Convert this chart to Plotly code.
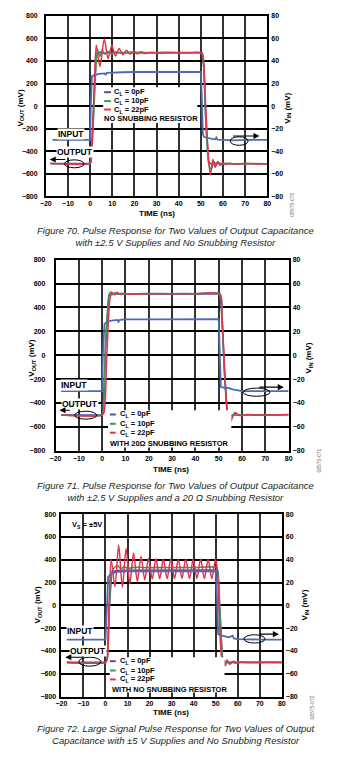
import plotly.graph_objects as go

# ---------------- data (time in ns, output in mV, input in mV) ----------------
# Figure 70
f70_in_t = [-17, 0, 0.3, 0.8, 2, 4, 6.5, 7, 7.5, 10, 15, 20, 30, 40, 50, 50.4, 50.9, 51.5, 53, 55, 56.5, 57, 57.5, 59, 62, 65, 70, 80]
f70_in_mv = [-30, -30, 0, 26.5, 27.5, 28.5, 29, 27.5, 29.5, 29.8, 30, 30.2, 30, 30.2, 30.2, 10, -25, -27.5, -28.5, -29.2, -29.5, -28, -29.8, -30, -30, -30.5, -30, -30]
f70_0pf_t = [-18, 0, 0.4, 1.5, 2.7, 4, 6, 10, 20, 50.5, 51.3, 52.3, 53.5, 55, 57, 60, 80]
f70_0pf_mv = [-510, -510, -485, 0, 460, 478, 470, 475, 473, 473, 350, -150, -500, -515, -505, -512, -512]
f70_10pf_t = [-18, 0, 0.4, 1.5, 2.5, 3.4, 4.4, 5.4, 6.6, 8, 9.6, 11.5, 14, 18, 25, 35, 45, 50.5, 51.3, 52.3, 53.3, 54.2, 54.8, 55.8, 56.8, 57.9, 59.2, 61, 64, 70, 80]
f70_10pf_mv = [-510, -510, -490, -120, 300, 500, 440, 495, 460, 485, 465, 480, 470, 476, 473, 476, 474, 470, 350, -150, -470, -555, -560, -490, -530, -500, -520, -508, -513, -510, -512]
f70_22pf_t = [-18, 0, 0.3, 1.2, 2.0, 2.8, 4.4, 6.4, 8.1, 9.8, 11.4, 13.1, 14.7, 16.4, 18.0, 19.7, 21.3, 23.0, 24.6, 27, 31, 36, 41, 46, 50.5, 51.2, 52.2, 53.3, 54.3, 55.4, 56.5, 57.6, 58.7, 59.8, 61, 63, 66, 70, 75, 80]
f70_22pf_mv = [-510, -510, -500, -200, 250, 540, 350, 595, 420, 540, 445, 510, 455, 495, 460, 488, 463, 482, 466, 476, 468, 474, 471, 473, 470, 400, 0, -420, -612, -475, -545, -492, -528, -502, -518, -508, -515, -510, -514, -512]

# Figure 71
f71_in_t = [-17.6, 0, 0.3, 1.0, 2.0, 4.0, 6.5, 7.0, 7.5, 10, 20, 30, 40, 50, 50.4, 50.9, 52, 54.5, 56, 58, 60, 65, 70, 80]
f71_in_mv = [-30, -30, 0, 26, 28, 29, 29.5, 28, 29.5, 30, 30, 30.2, 30.2, 30.2, 5, -26.5, -27, -27.5, -28.5, -29, -30, -30, -30, -30]
f71_0pf_t = [-17.6, 0, 0.4, 1.5, 2.9, 5, 10, 30, 50.5, 51.3, 52.5, 53.6, 54.4, 56, 60, 80]
f71_0pf_mv = [-500, -500, -480, 100, 500, 512, 514, 515, 512, 350, -150, -470, -520, -500, -500, -498]
f71_10pf_t = [-17.6, 0, 0.4, 1.5, 2.9, 3.6, 4.5, 5.5, 6.5, 8, 10, 15, 20, 30, 40, 50.5, 51.3, 52.5, 53.6, 54.4, 55.1, 56.1, 57.1, 58.4, 60, 63, 70, 80]
f71_10pf_mv = [-500, -500, -480, 100, 505, 528, 508, 522, 510, 518, 512, 515, 516, 515, 515, 512, 350, -150, -470, -528, -532, -500, -484, -498, -502, -500, -500, -498]
f71_22pf_t = [-17.6, 0, 0.8, 2.0, 3.4, 4.2, 5.2, 6.5, 7.6, 9, 12, 20, 30, 40, 50.5, 51.4, 52.6, 53.7, 54.5, 55.1, 56.0, 57.0, 58.3, 60, 62, 65, 70, 80]
f71_22pf_mv = [-500, -500, -480, 0, 480, 528, 505, 527, 508, 516, 512, 515, 515, 515, 512, 330, -150, -480, -545, -556, -515, -480, -500, -506, -495, -500, -500, -495]

# Figure 72
f72_in_t = [-17.5, 0, 0.7, 1.2, 2, 3, 5, 8, 10, 20, 30, 40, 50, 50.6, 51.1, 52, 54, 56, 57.7, 58.2, 60, 65, 70, 80]
f72_in_mv = [-30, -30, 0, 25, 26.5, 28, 29.5, 30, 30, 30, 30, 30, 30, 5, -25, -26, -27, -28, -26.5, -29, -29.5, -30, -30, -30]
f72_0pf_t = [-17.5, 0, 0.8, 1.8, 2.8, 5, 10, 30, 50.3, 51, 52, 53, 54, 56, 60, 80]
f72_0pf_mv = [-500, -500, -470, 0, 290, 305, 308, 310, 310, 280, -100, -450, -505, -500, -500, -500]
f72_10pf_t = [-17.5, 0, 0.8, 1.8, 2.8, 4.0, 5.5, 7.0, 8.5, 10, 13, 20, 30, 40, 50.3, 51.0, 51.8, 52.8, 53.6, 54.3, 55.3, 56.3, 57.3, 58.5, 60, 65, 80]
f72_10pf_mv = [-500, -500, -470, 0, 290, 330, 350, 318, 342, 325, 334, 332, 333, 333, 333, 300, 0, -400, -510, -530, -488, -515, -495, -505, -500, -500, -500]
f72_22pf_t = [-17.5, 0, 0.7, 1.6, 2.6, 4.29, 5.98, 7.67, 9.36, 11.05, 12.74, 14.43, 16.12, 17.81, 19.5, 21.19, 22.88, 24.57, 26.26, 27.95, 29.64, 31.33, 33.02, 34.71, 36.4, 38.09, 39.78, 41.47, 43.16, 44.85, 46.54, 48.23, 49.92, 50.8, 51.6, 52.6, 53.5, 55.0, 56.5, 58.0, 59.5, 61, 65, 70, 80]
f72_22pf_mv = [-500, -500, -480, 0, 400, 165, 530, 160, 500, 190, 460, 210, 430, 225, 415, 232, 410, 235, 408, 235, 410, 236, 405, 238, 408, 235, 406, 237, 408, 235, 405, 236, 402, 300, -100, -450, -528, -480, -515, -490, -508, -498, -502, -500, -500]

time_ticks = [-20, -10, 0, 10, 20, 30, 40, 50, 60, 70, 80]
vout_ticks = [-800, -600, -400, -200, 0, 200, 400, 600, 800]
vin_ticks = [-80, -60, -40, -20, 0, 20, 40, 60, 80]

legend_names = ["C<sub>L</sub> = 0pF", "C<sub>L</sub> = 10pF", "C<sub>L</sub> = 22pF"]
notes = ["NO SNUBBING RESISTOR", "WITH 20Ω SNUBBING RESISTOR", "WITH NO SNUBBING RESISTOR"]
captions = [
    "Figure 70. Pulse Response for Two Values of Output Capacitance<br>with ±2.5 V Supplies and No Snubbing Resistor",
    "Figure 71. Pulse Response for Two Values of Output Capacitance<br>with ±2.5 V Supplies and a 20 Ω Snubbing Resistor",
    "Figure 72. Large Signal Pulse Response for Two Values of Output<br>Capacitance with ±5 V Supplies and No Snubbing Resistor",
]
codes = ["08575-070", "08575-071", "08575-072"]

# ---------------- styling ----------------
W, H = 349, 760
BLUE_IN = "#4c6bb2"
PURPLE = "#5a4a9e"
GREEN = "#3c9a56"
RED = "#e5324e"
FONT = "Arial, Liberation Sans, sans-serif"


def px(x):
    return x / W


def py(y):
    return 1 - y / H


fig = go.Figure()

panels = [
    dict(inp=(f70_in_t, f70_in_mv), o0=(f70_0pf_t, f70_0pf_mv), o10=(f70_10pf_t, f70_10pf_mv), o22=(f70_22pf_t, f70_22pf_mv),
         box=(41, 269, 12, 194)),
    dict(inp=(f71_in_t, f71_in_mv), o0=(f71_0pf_t, f71_0pf_mv), o10=(f71_10pf_t, f71_10pf_mv), o22=(f71_22pf_t, f71_22pf_mv),
         box=(51, 291, 258, 451)),
    dict(inp=(f72_in_t, f72_in_mv), o0=(f72_0pf_t, f72_0pf_mv), o10=(f72_10pf_t, f72_10pf_mv), o22=(f72_22pf_t, f72_22pf_mv),
         box=(57, 284, 515, 699)),
]

layout = dict(
    width=W, height=H, margin=dict(l=0, r=0, t=0, b=0),
    paper_bgcolor="white", plot_bgcolor="white", showlegend=False,
    font=dict(family=FONT, color="black"),
)

left_standoff = [5, 7, 2]
right_standoff = [3, 3, 3]
x_standoff = [0, 0, -1]

for i, p in enumerate(panels):
    xa = "x" if i == 0 else f"x{i + 1}"
    yl = "y" if i == 0 else f"y{2 * i + 1}"
    yr = f"y{2 * i + 2}"
    xkey = "xaxis" if i == 0 else f"xaxis{i + 1}"
    ylkey = "yaxis" if i == 0 else f"yaxis{2 * i + 1}"
    yrkey = f"yaxis{2 * i + 2}"
    x0, x1, y0, y1 = p["box"]

    fig.add_trace(go.Scatter(x=p["o0"][0], y=p["o0"][1], mode="lines", xaxis=xa, yaxis=yl,
                             line=dict(color=PURPLE, width=1.6), name="C_L = 0pF"))
    fig.add_trace(go.Scatter(x=p["o10"][0], y=p["o10"][1], mode="lines", xaxis=xa, yaxis=yl,
                             line=dict(color=GREEN, width=1.6, shape="spline", smoothing=0.7), name="C_L = 10pF"))
    fig.add_trace(go.Scatter(x=p["o22"][0], y=p["o22"][1], mode="lines", xaxis=xa, yaxis=yl,
                             line=dict(color=RED, width=1.5, shape="spline", smoothing=0.8), name="C_L = 22pF"))
    fig.add_trace(go.Scatter(x=p["inp"][0], y=p["inp"][1], mode="lines", xaxis=xa, yaxis=yr,
                             line=dict(color=BLUE_IN, width=1.8), name="INPUT"))

    tickfont = dict(family=FONT, size=7, color="black", weight="bold")
    layout[xkey] = dict(domain=[px(x0), px(x1)], anchor=yl, range=[-20, 80], tickvals=time_ticks,
                        ticktext=[f"{v}" if v >= 0 else f"\u2212{-v}" for v in time_ticks],
                        showgrid=True, gridcolor="#333333", gridwidth=1.7, zeroline=False,
                        showline=True, mirror=True, linecolor="black", linewidth=1.5,
                        ticks="", tickfont=tickfont, ticklabelstandoff=x_standoff[i])
    layout[ylkey] = dict(domain=[py(y1), py(y0)], anchor=xa, range=[-800, 800], tickvals=vout_ticks,
                         showgrid=True, gridcolor="black", gridwidth=1.5, zeroline=False,
                         showline=True, mirror=True, linecolor="black", linewidth=1.5,
                         ticks="", tickfont=tickfont, ticklabelstandoff=left_standoff[i])
    layout[yrkey] = dict(overlaying=yl, side="right", anchor=xa, range=[-80, 80], tickvals=vin_ticks,
                         showgrid=False, zeroline=False, showline=False,
                         ticks="", tickfont=tickfont, ticklabelstandoff=right_standoff[i])

fig.update_layout(**layout)

shapes = []
ann = []

def text(x, y, s, size=7.5, bold=True, xanchor="left", yanchor="middle", angle=0, color="black", bg=None, italic=False):
    d = dict(x=px(x), y=py(y), xref="paper", yref="paper", text=s, showarrow=False,
             xanchor=xanchor, yanchor=yanchor, textangle=angle,
             font=dict(family=FONT, size=size, color=color, weight="bold" if bold else "normal",
                       style="italic" if italic else "normal"),
             borderpad=0)
    if bg:
        d["bgcolor"] = bg
    ann.append(d)


def hline(xa, xb, y, color, width=2):
    shapes.append(dict(type="line", xref="paper", yref="paper", x0=px(xa), x1=px(xb), y0=py(y), y1=py(y),
                       line=dict(color=color, width=width), layer="above"))


def rect(xa, xb, ya, yb):
    shapes.append(dict(type="rect", xref="paper", yref="paper", x0=px(xa), x1=px(xb), y0=py(yb), y1=py(ya),
                       fillcolor="white", line=dict(width=0), layer="above"))


def ellipse(cx, cy, w, h):
    shapes.append(dict(type="circle", xref="paper", yref="paper", x0=px(cx - w / 2), x1=px(cx + w / 2),
                       y0=py(cy + h / 2), y1=py(cy - h / 2), line=dict(color="black", width=1), layer="above"))


def arrow(x_from, x_to, y):
    ann.append(dict(x=px(x_to), y=py(y), xref="paper", yref="paper", ax=x_from - x_to, ay=0,
                    text="", showarrow=True, arrowhead=2, arrowsize=1.1, arrowwidth=1.1,
                    arrowcolor="black", standoff=0, startstandoff=0))


# legend/annotation geometry per panel (pixel coords)
geo = [
    dict(box=(100, 197, 84, 120), sw=(101, 108), tx=110, ly=(89, 98, 106.5), note=(100, 115.7),
         inp=(53, 131), out=(51, 149), larr=(62, 45, 157), lell=(70.3, 161.3, 20, 8),
         rell=(240, 138.3, 18.5, 8.6), rarr=(233, 261, 133.3),
         ltitle=(15, 105), rtitle=(290, 105), xtitle=(155, 211.5), code=(295, 203), cap=(229, 241)),
    dict(box=(105, 232, 410, 447.5), sw=(107, 113), tx=116.5, ly=(414.3, 423.7, 432.7), note=(106, 443.3),
         inp=(56, 385), out=(57, 403.3), larr=(67, 55, 410), lell=(82, 415, 22.7, 8),
         rell=(258, 391.8, 27.4, 8.3), rarr=(260, 286, 386.7),
         ltitle=(26.7, 357), rtitle=(311.7, 357), xtitle=(170, 469.5), code=(322, 461), cap=(486, 497.5)),
    dict(box=(106.7, 225, 659.3, 695), sw=(107, 113), tx=116.5, ly=(663.3, 672.7, 681.7), note=(108, 691.7),
         inp=(61.7, 633.3), out=(65.3, 652.7), larr=(80, 61, 659.3), lell=(86.3, 663.8, 22.7, 9),
         rell=(255.8, 640.8, 21.7, 8.3), rarr=(260, 281, 636),
         ltitle=(33.3, 606.7), rtitle=(308.3, 606.7), xtitle=(170, 715.5), code=(315, 710), cap=(731, 743)),
]

for i, g in enumerate(geo):
    rect(*g["box"])
    for j, col in enumerate([PURPLE, GREEN, RED]):
        hline(g["sw"][0], g["sw"][1], g["ly"][j], col)
        text(g["tx"], g["ly"][j], legend_names[j])
    text(g["note"][0], g["note"][1], notes[i])
    text(g["inp"][0], g["inp"][1], "INPUT", size=8.5, bg="white")
    text(g["out"][0], g["out"][1], "OUTPUT", size=8.5, bg="white")
    arrow(g["larr"][0], g["larr"][1], g["larr"][2])
    ellipse(*g["lell"])
    ellipse(*g["rell"])
    arrow(g["rarr"][0], g["rarr"][1], g["rarr"][2])
    text(g["ltitle"][0], g["ltitle"][1], "V<sub>OUT</sub> (mV)", size=8, xanchor="center", angle=-90)
    text(g["rtitle"][0], g["rtitle"][1], "V<sub>IN</sub> (mV)", size=8, xanchor="center", angle=-90)
    text(g["xtitle"][0], g["xtitle"][1], "TIME (ns)", size=8, xanchor="center")
    text(g["code"][0], g["code"][1], codes[i], size=5, bold=False, xanchor="center", angle=-90, color="#666666")
    text(174.5, (g["cap"][0] + g["cap"][1]) / 2, captions[i], size=9.5, bold=False, xanchor="center",
         color="#231f20", italic=True)

text(66.7, 525.7, "V<sub>S</sub> = ±5V", size=7.5)

fig.update_layout(shapes=shapes, annotations=ann)
fig.write_html("out.html")
